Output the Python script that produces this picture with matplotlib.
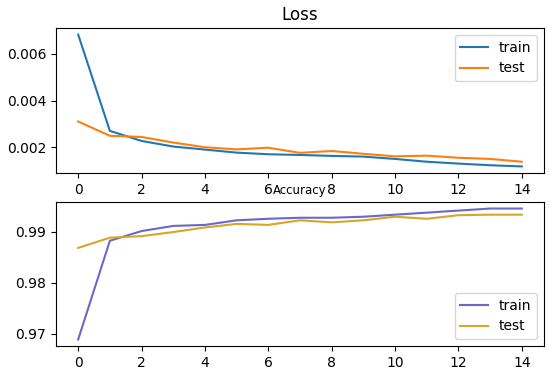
import numpy as np
import matplotlib
matplotlib.use('Agg')
import matplotlib.pyplot as plt

# values
epochs = list(range(15))
train_loss = [0.00682, 0.00270, 0.00227, 0.00203, 0.00190, 0.00177, 0.00170, 0.00167,
              0.00163, 0.00160, 0.00150, 0.00138, 0.00130, 0.00123, 0.00118]
test_loss = [0.00310, 0.00249, 0.00244, 0.00220, 0.00200, 0.00191, 0.00198, 0.00176,
             0.00184, 0.00172, 0.00161, 0.00164, 0.00155, 0.00150, 0.00138]
train_acc = [0.9689, 0.9882, 0.9901, 0.9911, 0.9913, 0.9922, 0.9925, 0.9927,
             0.9927, 0.9929, 0.9933, 0.9937, 0.9941, 0.9945, 0.9945]
test_acc = [0.9868, 0.9888, 0.9891, 0.9899, 0.9908, 0.9915, 0.9913, 0.9922,
            0.9918, 0.9922, 0.9929, 0.9925, 0.9932, 0.9933, 0.9933]

plt.rcParams['font.size'] = 10

fig = plt.figure(figsize=(5.5, 3.74), dpi=100)

# loss
ax1 = fig.add_axes([56/550, 1 - 173/374, 488/550, 145/374])
ax1.set_title('Loss', fontsize=12)
ax1.plot(epochs, train_loss, color='tab:blue', label='train')
ax1.plot(epochs, test_loss, color='tab:orange', label='test')
ax1.set_xticks(range(0, 15, 2))
ax1.set_yticks([0.002, 0.004, 0.006])
ax1.legend(loc='upper right')

# accuracy
ax2 = fig.add_axes([56/550, 1 - 346/374, 488/550, 144/374])
ax2.set_title('Accuracy', fontsize=8.5)
ax2.plot(epochs, train_acc, color='#6a68c8', label='train')
ax2.plot(epochs, test_acc, color='#d4a62a', label='test')
ax2.set_xticks(range(0, 15, 2))
ax2.set_yticks([0.97, 0.98, 0.99])
ax2.legend(loc='lower right')

plt.savefig('out.png', dpi=100)
